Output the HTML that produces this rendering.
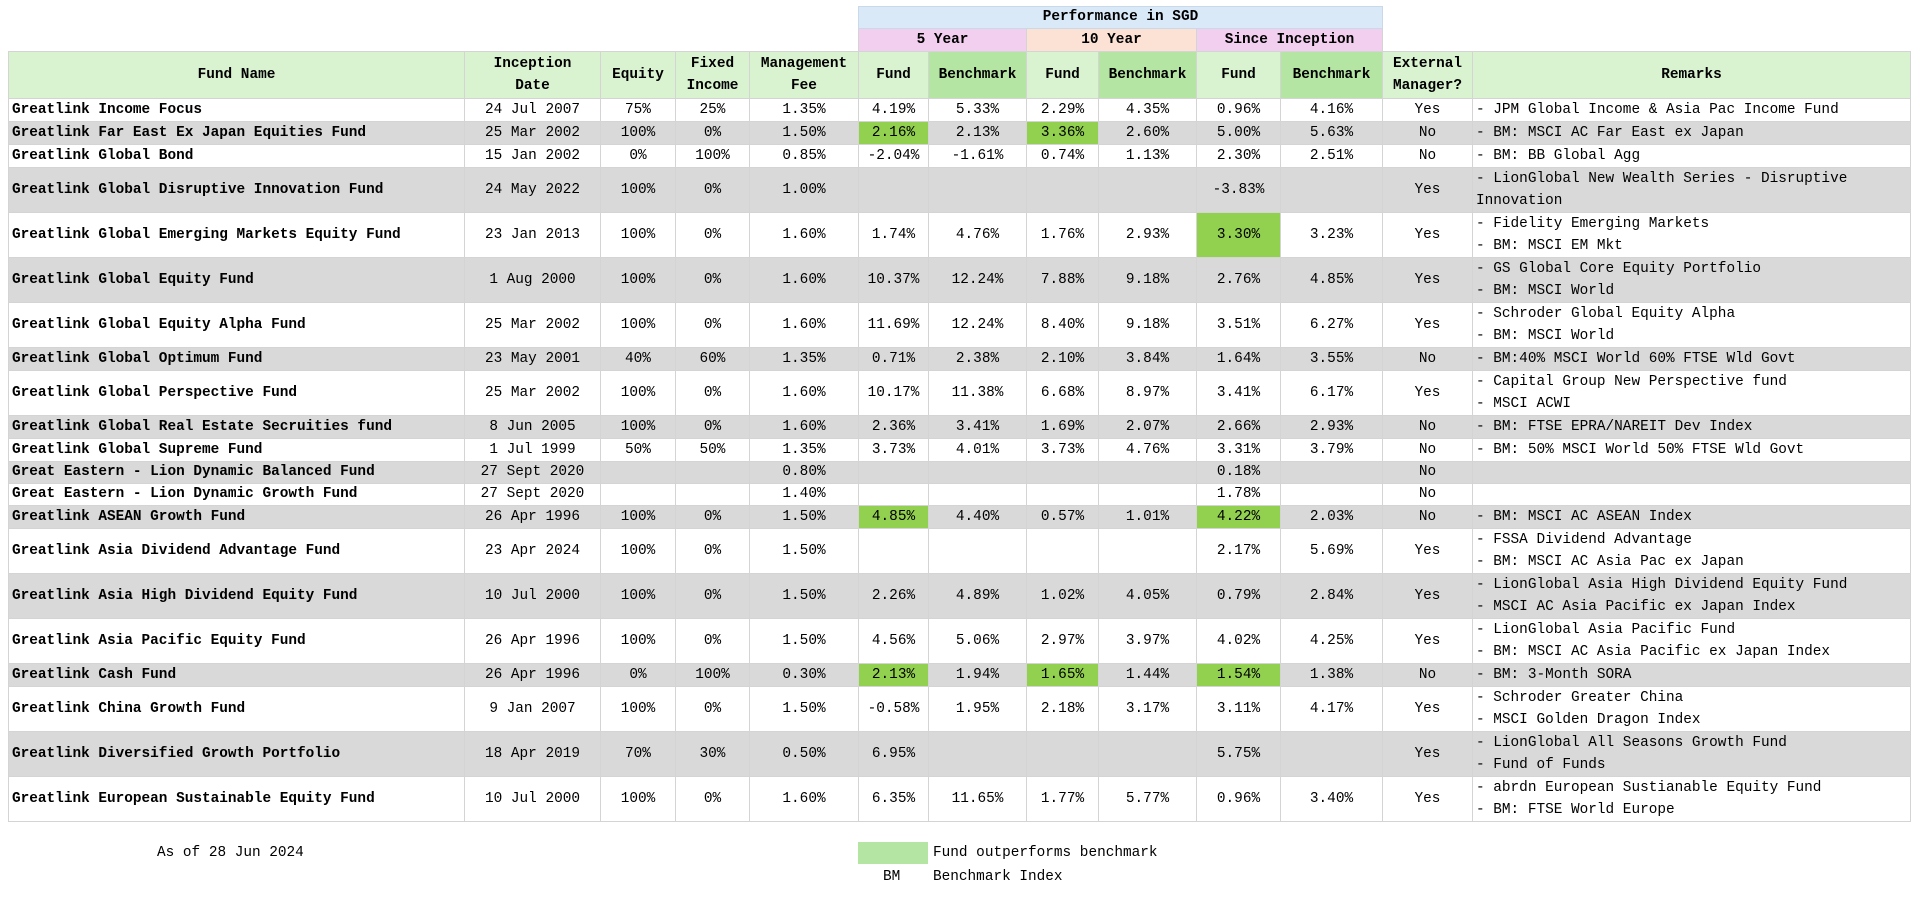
<!DOCTYPE html>
<html><head><meta charset="utf-8"><style>
body{margin:0;width:1920px;height:906px;background:#fff;font-family:"Liberation Mono",monospace;font-size:14.4px;color:#000;position:relative;overflow:hidden}
table{position:absolute;left:8px;top:6px;border-collapse:collapse;table-layout:fixed}
td{padding:0 3px;white-space:nowrap;overflow:hidden;text-align:center;border:1px solid #d4d4d4;line-height:21px}
td.e{border:none;background:#fff}
.h td{font-weight:bold;background:#d9f2d0;line-height:22px;white-space:normal}
.h td.b{background:#b4e5a2}
tr.s td{height:21px}
tr.t td{height:44px}
tr.g td{background:#d9d9d9}
td.n{text-align:left;font-weight:bold}
td.r{text-align:left;white-space:normal;line-height:22px}
td.x{background:#92d050 !important}
.ab{position:absolute;line-height:22px}
</style></head><body>
<table>
<colgroup><col style="width:456px"><col style="width:136px"><col style="width:75px"><col style="width:74px"><col style="width:109px"><col style="width:70px"><col style="width:98px"><col style="width:72px"><col style="width:98px"><col style="width:84px"><col style="width:102px"><col style="width:90px"><col style="width:438px"></colgroup>
<tr style="height:22px"><td class="e" colspan="5"></td><td colspan="6" style="background:#dae9f8;font-weight:bold;border-color:#c9d9ea">Performance in SGD</td><td class="e" colspan="2"></td></tr>
<tr style="height:23px"><td class="e" colspan="5"></td><td colspan="2" style="background:#f2ceef;font-weight:bold">5 Year</td><td colspan="2" style="background:#fbe2d5;font-weight:bold">10 Year</td><td colspan="2" style="background:#f2ceef;font-weight:bold">Since Inception</td><td class="e" colspan="2"></td></tr>
<tr class="h" style="height:47px"><td>Fund Name</td><td>Inception<br>Date</td><td>Equity</td><td>Fixed Income</td><td>Management Fee</td><td>Fund</td><td class="b">Benchmark</td><td>Fund</td><td class="b">Benchmark</td><td>Fund</td><td class="b">Benchmark</td><td>External Manager?</td><td>Remarks</td></tr>
<tr class="s"><td class="n">Greatlink Income Focus</td><td>24 Jul 2007</td><td>75%</td><td>25%</td><td>1.35%</td><td>4.19%</td><td>5.33%</td><td>2.29%</td><td>4.35%</td><td>0.96%</td><td>4.16%</td><td>Yes</td><td class="r">- JPM Global Income &amp; Asia Pac Income Fund</td></tr>
<tr class="s g"><td class="n">Greatlink Far East Ex Japan Equities Fund</td><td>25 Mar 2002</td><td>100%</td><td>0%</td><td>1.50%</td><td class="x">2.16%</td><td>2.13%</td><td class="x">3.36%</td><td>2.60%</td><td>5.00%</td><td>5.63%</td><td>No</td><td class="r">- BM: MSCI AC Far East ex Japan</td></tr>
<tr class="s"><td class="n">Greatlink Global Bond</td><td>15 Jan 2002</td><td>0%</td><td>100%</td><td>0.85%</td><td>-2.04%</td><td>-1.61%</td><td>0.74%</td><td>1.13%</td><td>2.30%</td><td>2.51%</td><td>No</td><td class="r">- BM: BB Global Agg</td></tr>
<tr class="t g"><td class="n">Greatlink Global Disruptive Innovation Fund</td><td>24 May 2022</td><td>100%</td><td>0%</td><td>1.00%</td><td></td><td></td><td></td><td></td><td>-3.83%</td><td></td><td>Yes</td><td class="r">- LionGlobal New Wealth Series - Disruptive Innovation</td></tr>
<tr class="t"><td class="n">Greatlink Global Emerging Markets Equity Fund</td><td>23 Jan 2013</td><td>100%</td><td>0%</td><td>1.60%</td><td>1.74%</td><td>4.76%</td><td>1.76%</td><td>2.93%</td><td class="x">3.30%</td><td>3.23%</td><td>Yes</td><td class="r">- Fidelity Emerging Markets<br>- BM: MSCI EM Mkt</td></tr>
<tr class="t g"><td class="n">Greatlink Global Equity Fund</td><td>1 Aug 2000</td><td>100%</td><td>0%</td><td>1.60%</td><td>10.37%</td><td>12.24%</td><td>7.88%</td><td>9.18%</td><td>2.76%</td><td>4.85%</td><td>Yes</td><td class="r">- GS Global Core Equity Portfolio<br>- BM: MSCI World</td></tr>
<tr class="t"><td class="n">Greatlink Global Equity Alpha Fund</td><td>25 Mar 2002</td><td>100%</td><td>0%</td><td>1.60%</td><td>11.69%</td><td>12.24%</td><td>8.40%</td><td>9.18%</td><td>3.51%</td><td>6.27%</td><td>Yes</td><td class="r">- Schroder Global Equity Alpha<br>- BM: MSCI World</td></tr>
<tr class="s g"><td class="n">Greatlink Global Optimum Fund</td><td>23 May 2001</td><td>40%</td><td>60%</td><td>1.35%</td><td>0.71%</td><td>2.38%</td><td>2.10%</td><td>3.84%</td><td>1.64%</td><td>3.55%</td><td>No</td><td class="r">- BM:40% MSCI World 60% FTSE Wld Govt</td></tr>
<tr class="t"><td class="n">Greatlink Global Perspective Fund</td><td>25 Mar 2002</td><td>100%</td><td>0%</td><td>1.60%</td><td>10.17%</td><td>11.38%</td><td>6.68%</td><td>8.97%</td><td>3.41%</td><td>6.17%</td><td>Yes</td><td class="r">- Capital Group New Perspective fund<br>- MSCI ACWI</td></tr>
<tr class="s g"><td class="n">Greatlink Global Real Estate Secruities fund</td><td>8 Jun 2005</td><td>100%</td><td>0%</td><td>1.60%</td><td>2.36%</td><td>3.41%</td><td>1.69%</td><td>2.07%</td><td>2.66%</td><td>2.93%</td><td>No</td><td class="r">- BM: FTSE EPRA/NAREIT Dev Index</td></tr>
<tr class="s"><td class="n">Greatlink Global Supreme Fund</td><td>1 Jul 1999</td><td>50%</td><td>50%</td><td>1.35%</td><td>3.73%</td><td>4.01%</td><td>3.73%</td><td>4.76%</td><td>3.31%</td><td>3.79%</td><td>No</td><td class="r">- BM: 50% MSCI World 50% FTSE Wld Govt</td></tr>
<tr class="s g"><td class="n">Great Eastern - Lion Dynamic Balanced Fund</td><td>27 Sept 2020</td><td></td><td></td><td>0.80%</td><td></td><td></td><td></td><td></td><td>0.18%</td><td></td><td>No</td><td class="r"></td></tr>
<tr class="s"><td class="n">Great Eastern - Lion Dynamic Growth Fund</td><td>27 Sept 2020</td><td></td><td></td><td>1.40%</td><td></td><td></td><td></td><td></td><td>1.78%</td><td></td><td>No</td><td class="r"></td></tr>
<tr class="s g"><td class="n">Greatlink ASEAN Growth Fund</td><td>26 Apr 1996</td><td>100%</td><td>0%</td><td>1.50%</td><td class="x">4.85%</td><td>4.40%</td><td>0.57%</td><td>1.01%</td><td class="x">4.22%</td><td>2.03%</td><td>No</td><td class="r">- BM: MSCI AC ASEAN Index</td></tr>
<tr class="t"><td class="n">Greatlink Asia Dividend Advantage Fund</td><td>23 Apr 2024</td><td>100%</td><td>0%</td><td>1.50%</td><td></td><td></td><td></td><td></td><td>2.17%</td><td>5.69%</td><td>Yes</td><td class="r">- FSSA Dividend Advantage<br>- BM: MSCI AC Asia Pac ex Japan</td></tr>
<tr class="t g"><td class="n">Greatlink Asia High Dividend Equity Fund</td><td>10 Jul 2000</td><td>100%</td><td>0%</td><td>1.50%</td><td>2.26%</td><td>4.89%</td><td>1.02%</td><td>4.05%</td><td>0.79%</td><td>2.84%</td><td>Yes</td><td class="r">- LionGlobal Asia High Dividend Equity Fund<br>- MSCI AC Asia Pacific ex Japan Index</td></tr>
<tr class="t"><td class="n">Greatlink Asia Pacific Equity Fund</td><td>26 Apr 1996</td><td>100%</td><td>0%</td><td>1.50%</td><td>4.56%</td><td>5.06%</td><td>2.97%</td><td>3.97%</td><td>4.02%</td><td>4.25%</td><td>Yes</td><td class="r">- LionGlobal Asia Pacific Fund<br>- BM: MSCI AC Asia Pacific ex Japan Index</td></tr>
<tr class="s g"><td class="n">Greatlink Cash Fund</td><td>26 Apr 1996</td><td>0%</td><td>100%</td><td>0.30%</td><td class="x">2.13%</td><td>1.94%</td><td class="x">1.65%</td><td>1.44%</td><td class="x">1.54%</td><td>1.38%</td><td>No</td><td class="r">- BM: 3-Month SORA</td></tr>
<tr class="t"><td class="n">Greatlink China Growth Fund</td><td>9 Jan 2007</td><td>100%</td><td>0%</td><td>1.50%</td><td>-0.58%</td><td>1.95%</td><td>2.18%</td><td>3.17%</td><td>3.11%</td><td>4.17%</td><td>Yes</td><td class="r">- Schroder Greater China<br>- MSCI Golden Dragon Index</td></tr>
<tr class="t g"><td class="n">Greatlink Diversified Growth Portfolio</td><td>18 Apr 2019</td><td>70%</td><td>30%</td><td>0.50%</td><td>6.95%</td><td></td><td></td><td></td><td>5.75%</td><td></td><td>Yes</td><td class="r">- LionGlobal All Seasons Growth Fund<br>- Fund of Funds</td></tr>
<tr class="t"><td class="n">Greatlink European Sustainable Equity Fund</td><td>10 Jul 2000</td><td>100%</td><td>0%</td><td>1.60%</td><td>6.35%</td><td>11.65%</td><td>1.77%</td><td>5.77%</td><td>0.96%</td><td>3.40%</td><td>Yes</td><td class="r">- abrdn European Sustianable Equity Fund<br>- BM: FTSE World Europe</td></tr>
</table>
<div class="ab" style="left:157px;top:842px">As of 28 Jun 2024</div>
<div class="ab" style="left:858px;top:842px;width:70px;height:22px;background:#b4e5a2"></div>
<div class="ab" style="left:933px;top:842px">Fund outperforms benchmark</div>
<div class="ab" style="left:883px;top:866px">BM</div>
<div class="ab" style="left:933px;top:866px">Benchmark Index</div>
</body></html>
